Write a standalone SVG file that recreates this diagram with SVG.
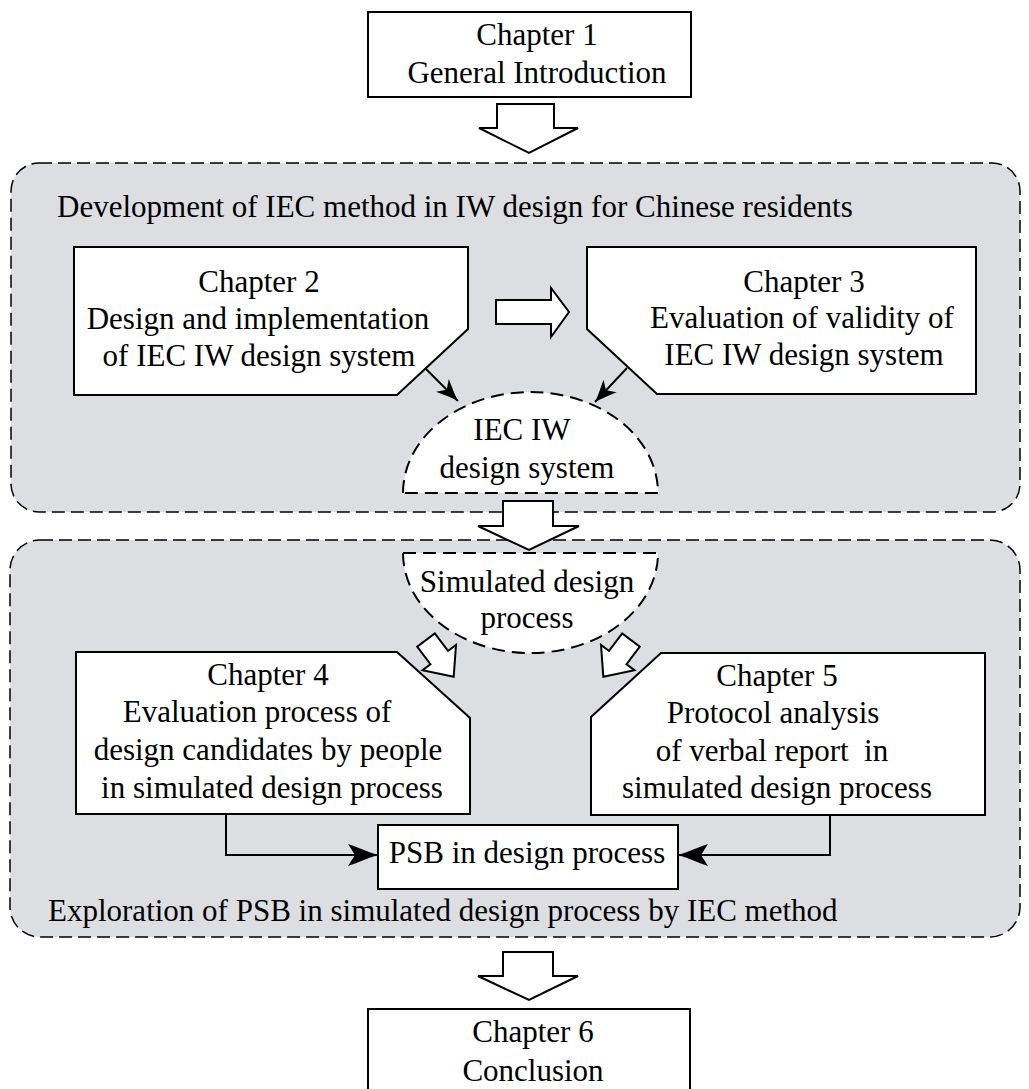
<svg xmlns="http://www.w3.org/2000/svg" width="1029" height="1089" viewBox="0 0 1029 1089">
  <defs>
    <style>
      .txt { font-family: "Liberation Serif", "Times New Roman", serif; font-size: 31px; fill: #000; }
      .mid { text-anchor: middle; }
      .box { fill: #fff; stroke: #000; stroke-width: 2; }
      .area { fill: #dddee2; stroke: #000; stroke-width: 1.5; stroke-dasharray: 13 6; }
      .dome { fill: #fff; stroke: #000; stroke-width: 2; stroke-dasharray: 13 7; }
      .block { fill: #fff; stroke: #000; stroke-width: 2; stroke-linejoin: miter; }
      .link { fill: none; stroke: #000; stroke-width: 2; }
    </style>
    <marker id="head" markerUnits="userSpaceOnUse" markerWidth="34" markerHeight="26" viewBox="-32 -13 34 26" refX="0" refY="0" orient="auto">
      <path d="M0,0 C-10,-3 -21,-8 -30,-11 L-23,0 L-30,11 C-21,8 -10,3 0,0 Z" fill="#000"/>
    </marker>
    <marker id="headSmall" markerUnits="userSpaceOnUse" markerWidth="26" markerHeight="20" viewBox="-24 -10 26 20" refX="0" refY="0" orient="auto">
      <path d="M0,0 C-7,-2 -15,-6 -22,-9 L-16,0 L-22,9 C-15,6 -7,2 0,0 Z" fill="#000"/>
    </marker>
    <!-- hollow block arrow pointing along +x, tip at (46,0) -->
    <polygon id="smallBlock" points="0,-11 22,-11 22,-21 46,0 22,21 22,11 0,11"/>
  </defs>

  <!-- dashed background areas -->
  <g id="area-development">
    <rect class="area" x="11" y="163" width="1009" height="349" rx="28" ry="28"/>
    <text class="txt" x="57" y="217">Development of IEC method in IW design for Chinese residents</text>
  </g>
  <g id="area-exploration">
    <rect class="area" x="10" y="540" width="1010" height="397" rx="30" ry="30"/>
    <text class="txt" x="48" y="921">Exploration of PSB in simulated design process by IEC method</text>
  </g>

  <!-- chapter nodes -->
  <g id="chapter1">
    <rect class="box" x="368" y="12" width="323" height="85"/>
    <text class="txt mid" x="537" y="45">Chapter 1</text>
    <text class="txt mid" x="537" y="83">General Introduction</text>
  </g>

  <g id="chapter2">
    <polygon class="box" points="74,247 468,247 468,329 397,395 74,395"/>
    <text class="txt mid" x="259" y="292">Chapter 2</text>
    <text class="txt mid" x="258" y="329">Design and implementation</text>
    <text class="txt mid" x="259" y="366">of IEC IW design system</text>
  </g>

  <g id="chapter3">
    <polygon class="box" points="587,247 976,247 976,394 657,394 587,329"/>
    <text class="txt mid" x="804" y="292">Chapter 3</text>
    <text class="txt mid" x="802" y="328">Evaluation of validity of</text>
    <text class="txt mid" x="804" y="365">IEC IW design system</text>
  </g>

  <g id="iec-iw-system">
    <path class="dome" d="M403,493 A127.5,101 0 0 1 658,493 Z"/>
    <text class="txt mid" x="522" y="440">IEC IW</text>
    <text class="txt mid" x="527" y="478">design system</text>
  </g>

  <g id="simulated-process">
    <path class="dome" d="M403,553 L658,553 A127.5,100 0 0 1 403,553 Z"/>
    <text class="txt mid" x="527" y="592">Simulated design</text>
    <text class="txt mid" x="527" y="628">process</text>
  </g>

  <g id="chapter4">
    <polygon class="box" points="76,652 397,652 470,718 470,814 76,814"/>
    <text class="txt mid" x="268" y="685">Chapter 4</text>
    <text class="txt mid" x="257" y="722">Evaluation process of</text>
    <text class="txt mid" x="268" y="760">design candidates by people</text>
    <text class="txt mid" x="272" y="798">in simulated design process</text>
  </g>

  <g id="chapter5">
    <polygon class="box" points="661,653 985,653 985,815 591,815 591,717"/>
    <text class="txt mid" x="777" y="686">Chapter 5</text>
    <text class="txt mid" x="773" y="723">Protocol analysis</text>
    <text class="txt mid" x="772" y="761" xml:space="preserve" style="white-space: pre">of verbal report  in</text>
    <text class="txt mid" x="777" y="798">simulated design process</text>
  </g>

  <g id="psb">
    <rect class="box" x="378" y="825" width="300" height="64"/>
    <text class="txt mid" x="527" y="863">PSB in design process</text>
  </g>

  <g id="chapter6">
    <rect class="box" x="368" y="1009" width="322" height="90"/>
    <text class="txt mid" x="533" y="1042">Chapter 6</text>
    <text class="txt mid" x="533" y="1081">Conclusion</text>
  </g>

  <!-- connectors -->
  <g id="connectors">
    <!-- block arrows -->
    <polygon class="block" points="497,104 554,104 554,128 578,128 529,153 479,128 497,128"/>
    <polygon class="block" points="496,300 551,300 551,288 569,312 551,337 551,324 496,324"/>
    <polygon class="block" points="503,501 553,501 553,526 579,526 529,550 478,526 503,526"/>
    <polygon class="block" points="503,952 553,952 553,976 578,976 529,1000 478,976 503,976"/>
    <use href="#smallBlock" class="block" transform="translate(426,640) rotate(53)"/>
    <use href="#smallBlock" class="block" transform="translate(631,640) rotate(127)"/>

    <!-- into the IEC IW design system -->
    <line class="link" x1="425" y1="368" x2="458" y2="401" marker-end="url(#headSmall)"/>
    <line class="link" x1="627" y1="368" x2="595" y2="402" marker-end="url(#headSmall)"/>

    <!-- into PSB in design process -->
    <polyline class="link" points="226,814 226,855 378,855" marker-end="url(#head)"/>
    <polyline class="link" points="830,815 830,855 678,855" marker-end="url(#head)"/>
  </g>
</svg>
